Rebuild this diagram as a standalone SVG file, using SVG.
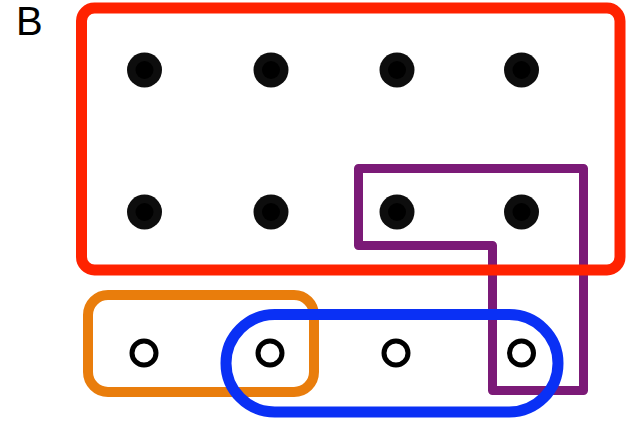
<svg xmlns="http://www.w3.org/2000/svg" width="627" height="427" viewBox="0 0 627 427">
<style>
.dot{fill:#0d0d0d}
.dotc{fill:#000}
.open{fill:none;stroke:#000;stroke-width:5}
.grp{fill:none;stroke-linejoin:round}
</style>
<rect width="627" height="427" fill="#fff"/>
<text x="16" y="35" font-family="Liberation Sans, Arial, sans-serif" font-size="40" fill="#000">B</text>
<g id="connectors">
<path id="purple" class="grp" d="M358.5,168.5 H583.5 V390.5 H492.5 V245.5 H358.5 Z" stroke="#7b1a77" stroke-width="9"/>
<rect id="red" class="grp" x="81.5" y="8" width="538.5" height="262" rx="13" stroke="#ff2200" stroke-width="11"/>
<rect id="orange" class="grp" x="88" y="295" width="226" height="97" rx="20" stroke="#e97d0c" stroke-width="10"/>
<rect id="blue" class="grp" x="226" y="314.5" width="332" height="97.5" rx="48.75" stroke="#0a30f5" stroke-width="11"/>
</g>
<g id="n1"><circle class="dot" cx="144.5" cy="70" r="17.5"/><circle class="dotc" cx="144.5" cy="70" r="9"/></g>
<g id="n2"><circle class="dot" cx="271" cy="70" r="17.5"/><circle class="dotc" cx="271" cy="70" r="9"/></g>
<g id="n3"><circle class="dot" cx="397" cy="70" r="17.5"/><circle class="dotc" cx="397" cy="70" r="9"/></g>
<g id="n4"><circle class="dot" cx="521.5" cy="70" r="17.5"/><circle class="dotc" cx="521.5" cy="70" r="9"/></g>
<g id="n5"><circle class="dot" cx="144.5" cy="212" r="17.5"/><circle class="dotc" cx="144.5" cy="212" r="9"/></g>
<g id="n6"><circle class="dot" cx="271" cy="212" r="17.5"/><circle class="dotc" cx="271" cy="212" r="9"/></g>
<g id="n7"><circle class="dot" cx="397" cy="212" r="17.5"/><circle class="dotc" cx="397" cy="212" r="9"/></g>
<g id="n8"><circle class="dot" cx="521.5" cy="212" r="17.5"/><circle class="dotc" cx="521.5" cy="212" r="9"/></g>
<g id="n9"><circle class="open" cx="144" cy="353" r="12"/></g>
<g id="n10"><circle class="open" cx="270" cy="353" r="12"/></g>
<g id="n11"><circle class="open" cx="396" cy="353" r="12"/></g>
<g id="n12"><circle class="open" cx="521.5" cy="353" r="12"/></g>
</svg>
